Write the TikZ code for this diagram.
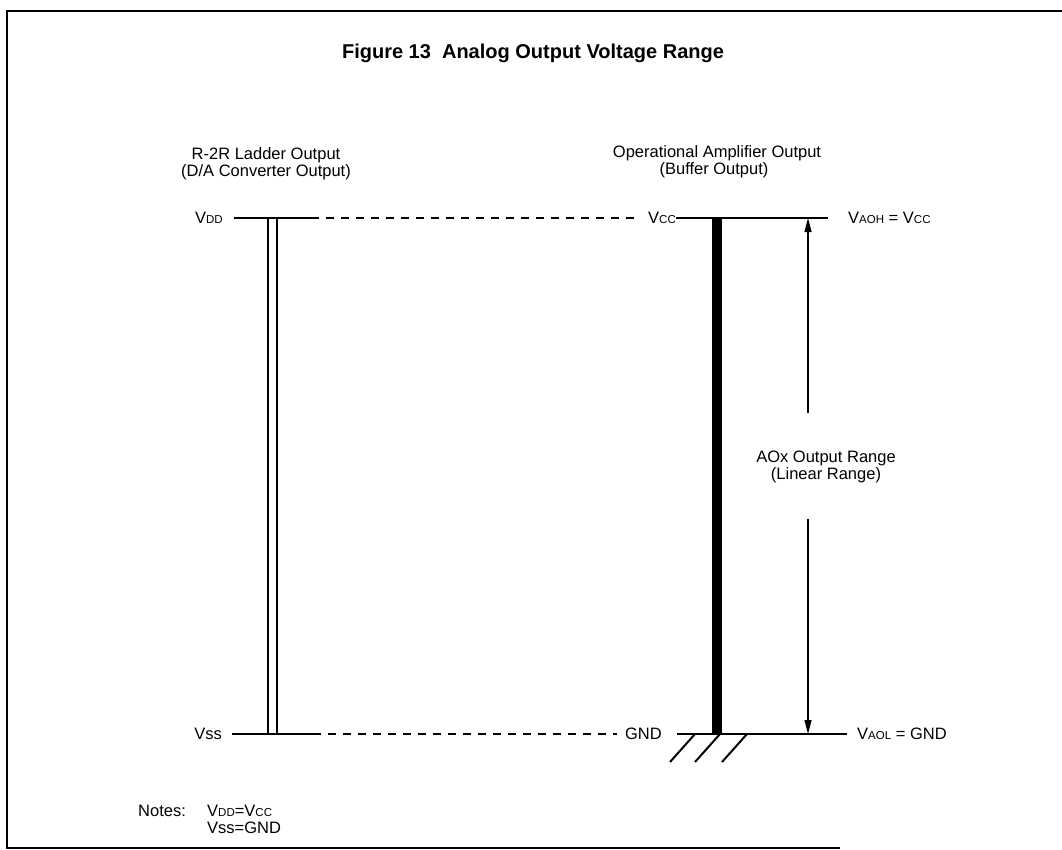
\documentclass[tikz,border=0pt]{standalone}
\usepackage{fontspec}
\setmainfont{Liberation Sans}
\usetikzlibrary{arrows.meta}
\newcommand{\sm}[1]{{\fontsize{11.5}{12}\selectfont #1}}
\begin{document}
\begin{tikzpicture}[x=1pt,y=-1pt,
  lbl/.style={inner sep=0pt, font=\fontsize{16.5}{13.5}\selectfont},
  hline/.style={line width=1.6pt},
  dline/.style={line width=1.5pt, dash pattern=on 8pt off 7pt},
  vline/.style={line width=2.4pt},
  hatch/.style={line width=2pt},
  frame/.style={line width=2pt},
  rangearrow/.style={line width=1.4pt, -{Triangle[length=14pt,width=7pt]}}]
\useasboundingbox (0,0) rectangle (1062,849);

% frame (open at the right)
\draw[frame] (1062,11) -- (7,11) -- (7,848) -- (840,848);

% title
\node[anchor=base, inner sep=0pt, font=\bfseries\fontsize{20}{24}\selectfont] (title) at (533,58) {Figure 13\ \ Analog Output Voltage Range};

% column headings
\node[lbl, anchor=base] (r2rA) at (266,159) {R-2R Ladder Output};
\node[lbl, anchor=base] (r2rB) at (266,176) {(D/A Converter Output)};
\node[lbl, anchor=base] (opA) at (717,157) {Operational Amplifier Output};
\node[lbl, anchor=base] (opB) at (714,174) {(Buffer Output)};

% VDD / VCC row
\node[lbl, anchor=east] (vdd) at (223,218) {V\sm{DD}};
\node[lbl, anchor=east] (vcc) at (676,218) {V\sm{CC}};
\node[lbl, anchor=west] (vaoh) at (848,218) {V\sm{AOH} = V\sm{CC}};
\coordinate (vddA) at (234,218);
\coordinate (vddB) at (311,218);
\coordinate (vddC) at (638,218);
\coordinate (vccE) at (828,218);
\draw[hline] (vddA) -- (vddB);
\draw[dline] (vddB) -- (vddC);
\draw[hline] (vcc.east) -- (vccE);

% VSS / GND row
\node[lbl, anchor=east] (vss) at (222,734) {Vss};
\node[lbl, anchor=east] (gnd) at (662,734) {GND};
\node[lbl, anchor=west] (vaol) at (857,734) {V\sm{AOL} = GND};
\coordinate (vssA) at (232,734);
\coordinate (vssB) at (313,734);
\coordinate (vssC) at (617,734);
\coordinate (gndA) at (677,734);
\coordinate (gndE) at (847,734);
\draw[hline] (vssA) -- (vssB);
\draw[dline] (vssB) -- (vssC);
\draw[hline] (gndA) -- (gndE);

% R-2R ladder output: double line
\coordinate (d1t) at (268,218); \coordinate (d1b) at (268,734);
\coordinate (d2t) at (277,218); \coordinate (d2b) at (277,734);
\draw[vline] (d1t) -- (d1b);
\draw[vline] (d2t) -- (d2b);

% op amp output: thick bar
\fill (712,218) rectangle (722,734);

% ground hatch
\coordinate (g1t) at (695,734); \coordinate (g1b) at (670,762);
\coordinate (g2t) at (720,734); \coordinate (g2b) at (695,762);
\coordinate (g3t) at (747,734); \coordinate (g3b) at (722,762);
\draw[hatch] (g1t) -- (g1b);
\draw[hatch] (g2t) -- (g2b);
\draw[hatch] (g3t) -- (g3b);

% range arrow
\coordinate (arrTop) at (808,218);
\coordinate (arrUp) at (808,413);
\coordinate (arrLo) at (808,519);
\coordinate (arrBot) at (808,734);
\draw[rangearrow] (arrUp) -- (arrTop);
\draw[rangearrow] (arrLo) -- (arrBot);
\node[lbl, anchor=base] (rngA) at (826,462) {AOx Output Range};
\node[lbl, anchor=base] (rngB) at (826,479) {(Linear Range)};

% notes
\node[lbl, anchor=base west] (notes) at (138,816) {Notes:};
\node[lbl, anchor=base west] (noteA) at (207,816) {V\sm{DD}=V\sm{CC}};
\node[lbl, anchor=base west] (noteB) at (207,833) {Vss=GND};
\end{tikzpicture}
\end{document}
